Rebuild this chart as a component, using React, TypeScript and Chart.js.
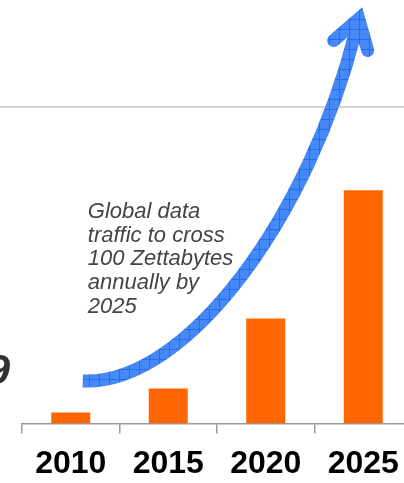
import React, { useEffect, useRef } from "react";
import { Chart, registerables } from "chart.js";

Chart.register(...registerables);

const categories = ["2010", "2015", "2020", "2025"];
const trafficValues = [5.2, 16.6, 49.8, 110.5];
const yMax = 150;
const noteLines = ["Global data", "traffic to cross", "100 Zettabytes", "annually by", "2025"];
// arrow path in data units: [category index, value]
const arrowStart = [0.123, 20.2];
const arrowCp1 = [1.2, 18.3];
const arrowCp2 = [2.451, 99];
const arrowEnd = [2.923, 186];
const arrowTip = [2.954, 191.8];
const arrowLeftArm = [2.697, 181.5];
const arrowRightArm = [3.046, 176.8];
const noteAnchor = [0.175, 97.5];

function makePattern(ctx: CanvasRenderingContext2D) {
  const c = document.createElement("canvas");
  c.width = 10;
  c.height = 10;
  const p = c.getContext("2d")!;
  p.fillStyle = "#4588f6";
  p.fillRect(0, 0, 10, 10);
  p.fillStyle = "#1f6ff0";
  p.fillRect(9, 0, 1, 10);
  p.fillRect(0, 9, 10, 1);
  return ctx.createPattern(c, "repeat")!;
}

const overlay = {
  id: "overlay",
  afterDraw(chart: any) {
    const ctx: CanvasRenderingContext2D = chart.ctx;
    const xs = chart.scales.x;
    const ys = chart.scales.y;
    const P = (pt: number[]) => [xs.getPixelForValue(pt[0]), ys.getPixelForValue(pt[1])];
    ctx.save();
    // top reference line
    const gy = ys.getPixelForValue(yMax);
    ctx.strokeStyle = "#c8c8c8";
    ctx.lineWidth = 1.5;
    ctx.beginPath();
    ctx.moveTo(0, gy);
    ctx.lineTo(chart.width, gy);
    ctx.stroke();

    // arrow
    const pat = makePattern(ctx);
    ctx.strokeStyle = pat;
    ctx.lineWidth = 13;
    ctx.lineCap = "butt";
    const s = P(arrowStart), c1 = P(arrowCp1), c2 = P(arrowCp2), e = P(arrowEnd);
    ctx.beginPath();
    ctx.moveTo(s[0], s[1]);
    ctx.bezierCurveTo(c1[0], c1[1], c2[0], c2[1], e[0], e[1]);
    ctx.stroke();
    const t = P(arrowTip), la = P(arrowLeftArm), ra = P(arrowRightArm);
    ctx.lineCap = "round";
    ctx.lineJoin = "miter";
    ctx.miterLimit = 10;
    ctx.beginPath();
    ctx.moveTo(la[0], la[1]);
    ctx.lineTo(t[0], t[1]);
    ctx.lineTo(ra[0], ra[1]);
    ctx.stroke();

    // note text
    const a = P(noteAnchor);
    ctx.fillStyle = "#444444";
    ctx.font = "italic 22px 'Liberation Sans', Arial, sans-serif";
    ctx.textAlign = "left";
    ctx.textBaseline = "alphabetic";
    noteLines.forEach((line, i) => {
      ctx.fillText(line, a[0], a[1] + i * 23.7);
    });

    // cut-off glyph at the left edge
    ctx.fillStyle = "#333333";
    ctx.font = "italic bold 42px 'Liberation Sans', Arial, sans-serif";
    ctx.textAlign = "right";
    ctx.fillText("9", 10, 384);
    ctx.restore();
  },
};

export default function App() {
  const ref = useRef<HTMLCanvasElement>(null);
  useEffect(() => {
    if (!ref.current) return;
    const chart = new Chart(ref.current, {
      type: "bar",
      data: {
        labels: categories,
        datasets: [
          {
            data: trafficValues,
            backgroundColor: "#ff6600",
            barPercentage: 0.4,
            categoryPercentage: 1,
          },
        ],
      },
      options: {
        responsive: false,
        animation: false,
        devicePixelRatio: 1,
        layout: { padding: { left: 22, right: 8, top: 107, bottom: -11 } },
        plugins: { legend: { display: false }, tooltip: { enabled: false } },
        scales: {
          x: {
            grid: {
              display: true,
              drawOnChartArea: false,
              drawTicks: true,
              tickLength: 10,
              color: "#9a9a9a",
              lineWidth: 1.5,
              offset: true,
            },
            border: { display: true, color: "#9a9a9a", width: 1.5 },
            ticks: {
              color: "#000",
              padding: 11,
              font: { family: "'Liberation Sans', Arial, sans-serif", size: 32, weight: "bold", lineHeight: 1.2 },
            },
          },
          y: { display: false, min: 0, max: yMax },
        },
      },
      plugins: [overlay],
    });
    return () => chart.destroy();
  }, []);
  return (
    <div style={{ position: "absolute", left: 0, top: 0, width: 404, height: 483, overflow: "hidden", background: "#fff" }}>
      <canvas ref={ref} width={420} height={483} style={{ width: 420, height: 483, display: "block" }} />
    </div>
  );
}
